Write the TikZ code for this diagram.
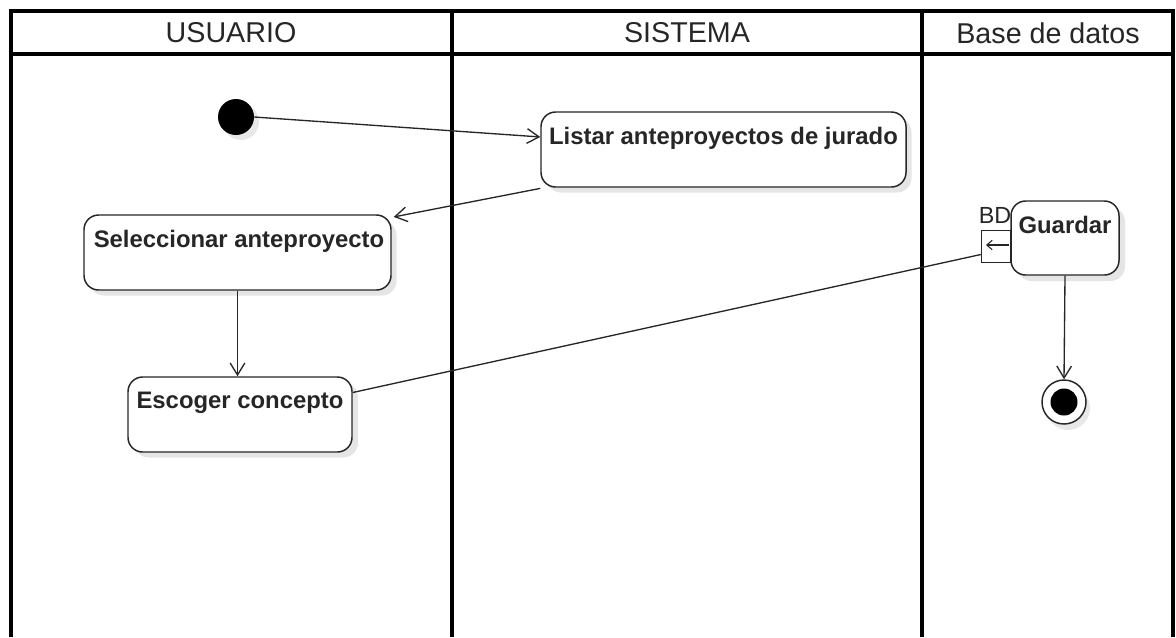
\documentclass[tikz,border=0pt]{standalone}
\usepackage{fontspec}
\setmainfont{Liberation Sans}
\usetikzlibrary{arrows.meta,calc}
\tikzset{
  lane/.style={line width=2.3pt,draw=black},
  act/.style={draw=black!85,line width=1.1pt,rounded corners=11pt,fill=white,inner sep=0pt},
  actshadow/.style={fill=black!10,rounded corners=11pt,draw=none,inner sep=0pt},
  acttext/.style={font=\fontsize{17.9pt}{20pt}\selectfont\bfseries,text=black!85,inner sep=0pt},
  headtext/.style={font=\fontsize{21.5pt}{24pt}\selectfont,text=black!85,inner sep=0pt},
  flow/.style={line width=1pt,draw=black!85},
  arr/.style={flow,-{Straight Barb[length=9pt,width=11pt,line width=1pt]}},
}
\begin{document}
\begin{tikzpicture}[x=0.75pt,y=-0.75pt]
\useasboundingbox (0,0) rectangle (1176,637);
% shadows
\fill[black!9] (241,122) circle (18);
\fill[black!9] (1068,408) circle (22);
\node[actshadow,minimum width=365*0.75pt,minimum height=75*0.75pt] at (729,155) {};
\node[actshadow,minimum width=307*0.75pt,minimum height=75*0.75pt] at (243,258) {};
\node[actshadow,minimum width=224*0.75pt,minimum height=75*0.75pt] at (246,420) {};
\node[actshadow,minimum width=108*0.75pt,minimum height=74*0.75pt] at (1071,244) {};
% lanes
\draw[lane] (11,637) -- (11,11) -- (1173,11) -- (1173,637);
\draw[lane] (11,54) -- (1173,54);
\draw[lane,line width=3pt] (451.5,11) -- (451.5,637);
\draw[lane] (922,11) -- (922,637);
\node[headtext] (h1) at (231,33) {USUARIO};
\node[headtext] (h2) at (687,33) {SISTEMA};
\node[headtext] (h3) at (1048,33) {Base de datos};
% nodes
\node[circle,fill=black,minimum size=36*0.75pt,inner sep=0pt] (start) at (236,117) {};
\node[act,minimum width=365*0.75pt,minimum height=75*0.75pt] (listar) at (723.5,149.5) {};
\node[acttext] (listarT) at (723.5,138) {Listar anteproyectos de jurado};
\node[act,minimum width=307*0.75pt,minimum height=75*0.75pt] (sel) at (237.5,252.5) {};
\node[acttext] (selT) at (239,241) {Seleccionar anteproyecto};
\node[act,minimum width=224*0.75pt,minimum height=75*0.75pt] (esc) at (240,414.5) {};
\node[acttext] (escT) at (240,403) {Escoger concepto};
\node[act,minimum width=108*0.75pt,minimum height=74*0.75pt] (guardar) at (1065,238) {};
\node[acttext] (guardarT) at (1065,225) {Guardar};
\node[draw=black!85,line width=1.1pt,fill=white,minimum width=29*0.75pt,minimum height=32*0.75pt,inner sep=0pt] (pin) at (996,246.5) {};
\node[font=\fontsize{17.5pt}{19pt}\selectfont,text=black!85,inner sep=0pt] (bd) at (995,215) {BD};
\node[circle,draw=black!85,line width=1.1pt,fill=white,minimum size=44*0.75pt,inner sep=0pt] (end) at (1064,402) {};
\node[circle,fill=black,minimum size=27*0.75pt,inner sep=0pt] (endin) at (end.center) {};
% pin arrow
\coordinate (pa) at (1009,245);
\coordinate (pb) at (986,245);
\draw[flow,-{Straight Barb[length=4pt,width=7pt,line width=0.8pt]}] (pa) -- (pb);
% flows
\draw[arr] (start.east) -- ([yshift=9.4pt]listar.west);
\draw[arr] ([yshift=-0.5pt]listar.south west) -- ([xshift=1.5pt,yshift=-2pt]sel.north east);
\draw[arr] (sel.south) -- (sel.south |- esc.north);
\draw[flow] ([yshift=16.5pt]esc.east) -- ([yshift=-6pt]pin.west);
\draw[arr] (guardar.south) -- (end.north);
\end{tikzpicture}
\end{document}
